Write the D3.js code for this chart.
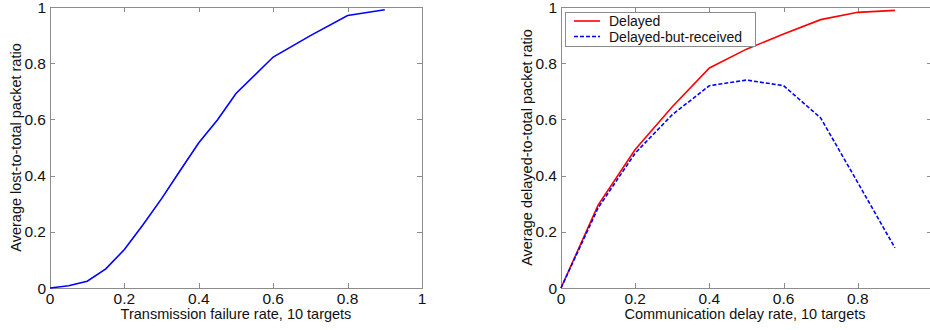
<!DOCTYPE html>
<html>
<head>
  <meta charset="utf-8">
  <title>Packet ratio plots</title>
  <script src="https://d3js.org/d3.v7.min.js"></script>
  <style>
    body { margin: 0; background: #fff; }
    svg { font-family: "Liberation Sans", Arial, sans-serif; }
    .frame { fill: none; stroke: #8c8c8c; stroke-width: 1; }
    .tick-mark { stroke: #8c8c8c; stroke-width: 1; }
    .tick-label { font-size: 15.5px; fill: #111; }
    .axis-title { font-size: 14.5px; fill: #111; }
    .legend-label { font-size: 14px; fill: #111; }
  </style>
</head>
<body>
  <svg width="930" height="330"></svg>

  <script>
    // Dados
    var lossX = [0, 0.05, 0.1, 0.15, 0.2, 0.25, 0.3, 0.35, 0.4, 0.45, 0.5, 0.6, 0.7, 0.8, 0.9];
    var lossY = [0, 0.008, 0.024, 0.068, 0.137, 0.225, 0.318, 0.418, 0.517, 0.598, 0.692, 0.822, 0.898, 0.97, 0.99];

    var delayX = [0, 0.1, 0.2, 0.3, 0.4, 0.5, 0.6, 0.7, 0.8, 0.9];
    var delayed = [0, 0.295, 0.493, 0.645, 0.783, 0.85, 0.904, 0.955, 0.981, 0.988];
    var delayedReceived = [0, 0.285, 0.48, 0.617, 0.72, 0.74, 0.72, 0.605, 0.375, 0.143];

    var xTicksLeft = [0, 0.2, 0.4, 0.6, 0.8, 1];
    var xTicksRight = [0, 0.2, 0.4, 0.6, 0.8];
    var yTicks = [0, 0.2, 0.4, 0.6, 0.8, 1];
    var legendLabels = ["Delayed", "Delayed-but-received"];

    var svg = d3.select("svg");
    var fmt = function(d) { return d === 0 || d === 1 ? String(d) : d.toFixed(1); };

    function panel(x0, x1, y0, y1, xTicks, yTitle, xTitle, titleX) {
      var x = d3.scaleLinear().domain([0, 1]).range([x0, x1]);
      var y = d3.scaleLinear().domain([0, 1]).range([y1, y0]);
      var g = svg.append("g");

      // caixa
      g.append("rect").attr("class", "frame")
        .attr("x", x0 + 0.5).attr("y", y0 + 0.5)
        .attr("width", x1 - x0).attr("height", y1 - y0);

      // ticks para dentro, nos 4 lados
      yTicks.forEach(function(t) {
        var yy = Math.round(y(t)) + 0.5;
        g.append("line").attr("class", "tick-mark")
          .attr("x1", x0).attr("x2", x0 + 5).attr("y1", yy).attr("y2", yy);
        g.append("line").attr("class", "tick-mark")
          .attr("x1", x1 - 5).attr("x2", x1).attr("y1", yy).attr("y2", yy);
        g.append("text").attr("class", "tick-label")
          .attr("x", x0 - 4).attr("y", y(t) + 5.5)
          .attr("text-anchor", "end").text(fmt(t));
      });
      xTicks.forEach(function(t) {
        var xx = Math.round(x(t)) + 0.5;
        g.append("line").attr("class", "tick-mark")
          .attr("x1", xx).attr("x2", xx).attr("y1", y1).attr("y2", y1 - 5);
        g.append("line").attr("class", "tick-mark")
          .attr("x1", xx).attr("x2", xx).attr("y1", y0).attr("y2", y0 + 5);
        g.append("text").attr("class", "tick-label")
          .attr("x", x(t)).attr("y", y1 + 16)
          .attr("text-anchor", "middle").text(fmt(t));
      });

      g.append("text").attr("class", "axis-title")
        .attr("x", titleX).attr("y", y1 + 31)
        .attr("text-anchor", "middle").text(xTitle);

      g.append("text").attr("class", "axis-title")
        .attr("transform", "translate(" + (x0 - 29) + "," + ((y0 + y1) / 2) + ") rotate(-90)")
        .attr("text-anchor", "middle").text(yTitle);

      return { g: g, x: x, y: y };
    }

    var left = panel(50, 422, 7, 288, xTicksLeft,
      "Average lost-to-total packet ratio", "Transmission failure rate, 10 targets", 236);

    var right = panel(561, 932, 7, 288, xTicksRight,
      "Average delayed-to-total packet ratio", "Communication delay rate, 10 targets", 745);

    var lineL = d3.line()
      .x(function(d, i) { return left.x(lossX[i]); })
      .y(function(d) { return left.y(d); });
    left.g.append("path").datum(lossY)
      .attr("d", lineL).attr("fill", "none")
      .attr("stroke", "#0000ff").attr("stroke-width", 1.6);

    var lineR = d3.line()
      .x(function(d, i) { return right.x(delayX[i]); })
      .y(function(d) { return right.y(d); });
    right.g.append("path").datum(delayed)
      .attr("d", lineR).attr("fill", "none")
      .attr("stroke", "#ff0000").attr("stroke-width", 1.6);
    right.g.append("path").datum(delayedReceived)
      .attr("d", lineR).attr("fill", "none")
      .attr("stroke", "#0000ff").attr("stroke-width", 1.6)
      .attr("stroke-dasharray", "4,2");

    // legenda
    var leg = right.g.append("g");
    leg.append("rect")
      .attr("x", 565.5).attr("y", 12.5).attr("width", 190).attr("height", 34)
      .attr("fill", "#fff").attr("stroke", "#8c8c8c");
    var legStyles = [{ c: "#ff0000", d: null }, { c: "#0000ff", d: "4,2" }];
    legendLabels.forEach(function(lbl, i) {
      var yy = 21 + i * 15.5;
      leg.append("line")
        .attr("x1", 574).attr("x2", 600).attr("y1", yy).attr("y2", yy)
        .attr("stroke", legStyles[i].c).attr("stroke-width", 1.6)
        .attr("stroke-dasharray", legStyles[i].d);
      leg.append("text").attr("class", "legend-label")
        .attr("x", 609).attr("y", yy + 5).text(lbl);
    });
  </script>
</body>
</html>
